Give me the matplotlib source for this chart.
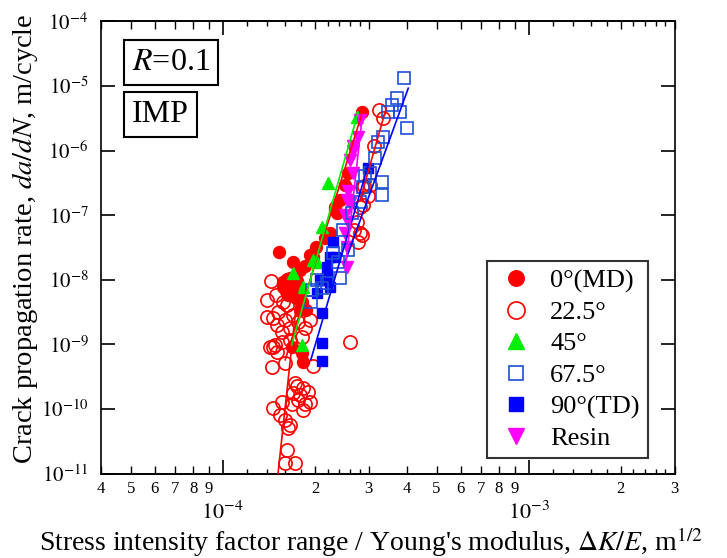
import math
import matplotlib
matplotlib.use("Agg")
import matplotlib.pyplot as plt
from matplotlib.ticker import FixedLocator, FuncFormatter, NullLocator, NullFormatter

plt.rcParams['font.family'] = 'Liberation Serif'
plt.rcParams['mathtext.fontset'] = 'stix'

# 0 deg (MD), filled red circles
md_x = [1.53e-4, 1.86e-4, 1.66e-4, 1.57e-4, 1.72e-4, 1.75e-4, 1.82e-4, 1.68e-4, 1.82e-4, 1.83e-4,
        1.62e-4, 1.76e-4, 1.57e-4, 2.24e-4, 2.37e-4, 2.33e-4, 1.79e-4, 1.68e-4, 2.57e-4, 2.51e-4,
        2.33e-4, 2.86e-4, 1.63e-4, 1.79e-4, 1.97e-4, 1.93e-4, 2.02e-4, 1.79e-4, 1.70e-4, 1.61e-4,
        1.74e-4, 1.87e-4, 2.16e-4, 2.42e-4]
md_y = [2.69e-8, 1.63e-8, 1.07e-8, 9.25e-9, 7.47e-9, 9.6e-9, 4.54e-9, 9.2e-10, 7.4e-10, 5.4e-10,
        1.03e-8, 7.0e-9, 7.7e-9, 5.3e-8, 1.08e-7, 1.2e-7, 7.0e-9, 1.07e-8, 4.5e-7, 2.9e-7,
        1.33e-7, 3.9e-6, 5.8e-9, 3.4e-9, 2.25e-8, 2.4e-8, 3.2e-8, 1.4e-8, 1.88e-8, 6.6e-9,
        5.2e-9, 3.4e-9, 4.5e-8, 1.7e-7]

# 22.5 deg, open red circles
d22_x = [3.25e-4, 3.35e-4, 3.13e-4, 2.90e-4, 2.88e-4, 3.03e-4, 2.86e-4, 2.75e-4, 2.81e-4, 2.77e-4,
         2.81e-4, 2.61e-4, 1.44e-4, 1.62e-4, 1.46e-4, 1.52e-4, 1.56e-4, 1.48e-4, 1.86e-4, 1.93e-4,
         1.60e-4, 1.70e-4, 1.39e-4, 1.46e-4, 1.50e-4, 1.45e-4, 1.60e-4, 1.97e-4, 1.72e-4, 1.70e-4,
         1.79e-4, 1.90e-4, 1.93e-4, 1.83e-4, 1.46e-4, 1.56e-4, 1.54e-4, 1.60e-4, 1.66e-4, 1.63e-4,
         1.62e-4, 1.60e-4, 1.72e-4, 1.40e-4, 1.49e-4, 1.57e-4, 1.50e-4, 1.66e-4, 1.76e-4, 1.82e-4,
         1.66e-4, 1.43e-4, 1.56e-4, 1.75e-4, 1.83e-4, 1.76e-4, 1.68e-4, 1.86e-4, 2.86e-4, 2.69e-4,
         2.99e-4]
d22_y = [4.2e-6, 3.2e-6, 1.17e-6, 2.8e-7, 1.43e-7, 2.9e-7, 2.7e-7, 7.8e-8, 5.3e-8, 3.8e-8,
         1.33e-7, 1.1e-9, 9.6e-9, 4.1e-9, 2.6e-9, 3.2e-9, 1.56e-9, 9.8e-10, 1.8e-9, 2.4e-9,
         2.4e-9, 2.9e-9, 2.7e-9, 9.2e-10, 7.7e-10, 4.5e-10, 5.2e-10, 4.6e-10, 2.5e-10, 1.78e-10,
         1.66e-10, 1.85e-10, 1.29e-10, 9.7e-11, 1.04e-10, 1.29e-10, 8.1e-11, 6.8e-11, 5.7e-11, 5.1e-11,
         2.3e-11, 1.47e-11, 1.47e-11, 4.8e-9, 5.8e-9, 4.46e-9, 2.0e-9, 1.8e-9, 2.2e-9, 1.3e-9,
         1.17e-9, 9.2e-10, 1.1e-9, 2.3e-10, 2.1e-10, 1.4e-10, 1.2e-10, 1.2e-10, 4.9e-8, 5.9e-8,
         2.0e-7]

# 45 deg, green triangles
d45_x = [2.21e-4, 2.75e-4, 2.11e-4, 1.97e-4, 1.83e-4, 1.70e-4, 1.82e-4, 2.03e-4]
d45_y = [3.1e-7, 3.3e-6, 6.5e-8, 2.0e-8, 7.7e-9, 1.27e-8, 9.8e-10, 1.9e-8]

# 67.5 deg, open blue squares
d67_x = [3.92e-4, 3.72e-4, 3.58e-4, 3.48e-4, 3.80e-4, 4.01e-4, 3.35e-4, 3.22e-4, 3.15e-4, 3.03e-4,
         3.32e-4, 3.32e-4, 2.81e-4, 2.65e-4, 2.47e-4, 2.57e-4, 2.30e-4, 2.38e-4, 2.42e-4, 2.03e-4,
         2.19e-4, 2.11e-4, 1.96e-4, 1.94e-4, 2.92e-4, 2.88e-4]
d67_y = [1.3e-5, 6.4e-6, 5.0e-6, 3.9e-6, 3.9e-6, 2.2e-6, 1.6e-6, 1.35e-6, 7.6e-7, 4.5e-7,
         3.25e-7, 2.05e-7, 1.6e-7, 1.08e-7, 5.9e-8, 2.9e-8, 2.6e-8, 1.9e-8, 1.07e-8, 9.9e-9,
         8.9e-9, 7.5e-9, 7.0e-9, 4.5e-9, 4.0e-7, 2.7e-7]

# 90 deg (TD), filled blue squares
td_x = [2.99e-4, 2.30e-4, 2.24e-4, 2.19e-4, 2.08e-4, 2.19e-4, 2.33e-4, 2.24e-4, 2.03e-4, 2.11e-4,
        2.11e-4, 2.11e-4]
td_y = [5.3e-7, 3.8e-8, 2.25e-8, 1.58e-8, 9.9e-9, 1.1e-8, 2.25e-8, 7.7e-9, 6.3e-9, 3.1e-9,
        1.05e-9, 5.6e-10]

# resin, magenta down triangles
resin_x = [2.81e-4, 2.77e-4, 2.67e-4, 2.61e-4, 2.67e-4, 2.55e-4, 2.57e-4, 2.61e-4, 2.51e-4, 2.57e-4,
           2.51e-4, 2.55e-4, 2.55e-4, 2.67e-4]
resin_y = [2.95e-6, 1.6e-6, 1.0e-6, 7.1e-7, 4.5e-7, 1.7e-7, 2.4e-7, 1.55e-7, 1.0e-7, 7.9e-8,
           5.3e-8, 3.2e-8, 1.55e-8, 1.17e-6]

# fit lines (start, end)
md_fit_x, md_fit_y = [1.60e-4, 2.86e-4], [5.8e-10, 3.9e-6]
d22_fit_x, d22_fit_y = [1.515e-4, 1.76e-4], [1.0e-11, 7.0e-9]
d22b_fit_x, d22b_fit_y = [2.81e-4, 3.42e-4], [1.7e-7, 4.5e-6]
d45_fit_x, d45_fit_y = [1.68e-4, 2.77e-4], [9.8e-10, 3.9e-6]
d67_fit_x, d67_fit_y = [2.51e-4, 4.04e-4], [1.9e-8, 9.2e-6]
td_fit_x, td_fit_y = [1.94e-4, 2.99e-4], [5.8e-10, 6.0e-7]
resin_fit_x, resin_fit_y = [2.51e-4, 2.86e-4], [1.4e-8, 3.5e-6]

red = '#ff0000'
green = '#00ee00'
blue_open = '#1f4fd6'
blue = '#0000ff'
magenta = '#ff00ff'


def decade_label(v, pos):
    return r'$10^{%d}$' % round(math.log10(v))


def mult_label(v, pos):
    return '%d' % round(v / 10 ** math.floor(math.log10(v) + 1e-9))


fig = plt.figure(figsize=(7.27, 5.58), dpi=100)
ax = fig.add_axes([0.139, 0.151, 0.789, 0.811])
ax.set_xscale('log')
ax.set_yscale('log')

ms = 8.6
ax.plot(d22_x, d22_y, 'o', mfc='none', mec=red, mew=1.2, ms=9.5, label='22.5°', zorder=3)
ax.plot(md_x, md_y, 'o', color=red, ms=ms, label='0°(MD)', zorder=4)
ax.plot(d45_x, d45_y, '^', color=green, ms=ms, label='45°', zorder=4)
ax.plot(resin_x, resin_y, 'v', color=magenta, ms=ms, label='Resin', zorder=4)
ax.plot(td_x, td_y, 's', color=blue, ms=7.8, label='90°(TD)', zorder=5)
ax.plot(d67_x, d67_y, 's', mfc='none', mec=blue_open, mew=1.2, ms=8.0, label='67.5°', zorder=5)

ax.plot(md_fit_x, md_fit_y, '-', color=red, lw=1.2, zorder=6)
ax.plot(d22_fit_x, d22_fit_y, '-', color=red, lw=1.2, zorder=6)
ax.plot(d22b_fit_x, d22b_fit_y, '-', color=red, lw=1.2, zorder=6)
ax.plot(d45_fit_x, d45_fit_y, '-', color=green, lw=1.2, zorder=6)
ax.plot(d67_fit_x, d67_fit_y, '-', color=blue, lw=1.2, zorder=6)
ax.plot(td_fit_x, td_fit_y, '-', color=blue, lw=1.2, zorder=6)
ax.plot(resin_fit_x, resin_fit_y, '-', color=magenta, lw=1.2, zorder=6)

ax.set_xlim(4e-5, 3e-3)
ax.set_ylim(1e-11, 1e-4)

for s in ax.spines.values():
    s.set_linewidth(1.2)

# x ticks: decades long, integer multiples medium + labelled, 0.2 steps short
decades = [1e-4, 1e-3]
mults = [k * d for d in [1e-5, 1e-4, 1e-3] for k in range(2, 10) if 4e-5 <= k * d <= 3e-3]
shorts = [k * d for d in [1e-4, 1e-3] for k in [1.2, 1.4, 1.6, 1.8, 2.2, 2.4, 2.6, 2.8]]

ax.xaxis.set_major_locator(FixedLocator(decades))
ax.xaxis.set_major_formatter(FuncFormatter(decade_label))
ax.xaxis.set_minor_locator(FixedLocator(mults))
ax.xaxis.set_minor_formatter(FuncFormatter(mult_label))
ax.tick_params(axis='x', which='major', direction='in', length=10, width=1.2, top=True,
               labelsize=16, pad=20)
ax.tick_params(axis='x', which='minor', direction='in', length=5.5, width=1.0, top=True,
               labelsize=12, pad=5)

for loc in ['bottom', 'top']:
    sec = ax.secondary_xaxis(loc, functions=(lambda v: v, lambda v: v))
    sec.xaxis.set_major_locator(FixedLocator(shorts))
    sec.xaxis.set_minor_locator(NullLocator())
    sec.xaxis.set_major_formatter(NullFormatter())
    sec.tick_params(which='both', direction='in', length=3.5, width=1.0)
    sec.spines[loc].set_linewidth(1.2)

ax.yaxis.set_major_locator(FixedLocator([10.0 ** e for e in range(-11, -3)]))
ax.yaxis.set_major_formatter(FuncFormatter(decade_label))
ax.yaxis.set_minor_locator(NullLocator())
ax.tick_params(axis='y', which='major', direction='in', length=10, width=1.2, right=True,
               labelsize=15, pad=9)

ax.set_xlabel(r"Stress intensity factor range / Young's modulus, $\mathit{\Delta K/E}$, m$^{1/2}$",
              fontsize=20)
ax.xaxis.set_label_coords(0.47, -0.114)
ax.set_ylabel(r"Crack propagation rate, $\mathit{da/dN}$, m/cycle", fontsize=20.5)
ax.yaxis.set_label_coords(-0.106, 0.52)

box = dict(boxstyle='square,pad=0.25', fc='white', ec='black', lw=1.5)
ax.text(0.054, 0.908, r'$\mathit{R}$=0.1', transform=ax.transAxes, fontsize=23,
        ha='left', va='center', bbox=box)
ax.text(0.054, 0.793, 'IMP', transform=ax.transAxes, fontsize=23,
        ha='left', va='center', bbox=box)

h, l = ax.get_legend_handles_labels()
order = ['0°(MD)', '22.5°', '45°', '67.5°', '90°(TD)', 'Resin']
hd = dict(zip(l, h))
leg = ax.legend([hd[o] for o in order], order, loc='lower right', bbox_to_anchor=(0.953, 0.035),
                borderaxespad=0, fontsize=19, markerscale=1.3, frameon=True, fancybox=False,
                edgecolor='black', handlelength=1.6, handletextpad=0.5, labelspacing=0.3,
                borderpad=0.3)
leg.get_frame().set_linewidth(1.5)

fig.savefig('out.png', dpi=100)
